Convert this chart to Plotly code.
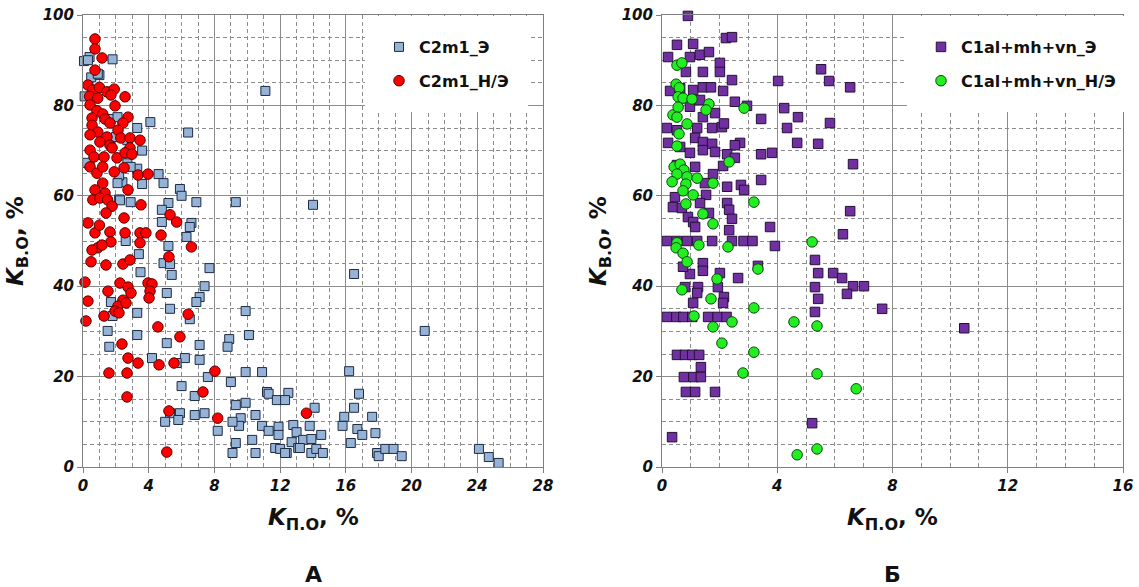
import plotly.graph_objects as go

# ---------------- data (K_П.О %, K_В.О %) ----------------
c2m1_e_points = [
    (0.06, 89.8), (0.4, 90.7), (1.8, 90.2), (0.5, 86.2), (1.0, 86.7), (11.1, 83.2), (4.1, 76.3), (6.4, 74.0),
    (3.3, 75.0), (3.6, 70.0), (0.4, 67.0), (3.3, 66.0), (4.6, 64.8), (4.9, 62.8), (2.4, 63.0), (3.6, 62.6),
    (5.9, 61.5), (6.0, 60.0), (6.9, 58.6), (9.3, 58.6), (5.2, 58.4), (2.9, 58.6), (2.2, 59.2), (4.8, 56.9),
    (6.6, 54.0), (6.5, 53.1), (4.8, 54.2), (6.3, 50.9), (2.6, 50.0), (5.2, 48.9), (1.6, 77.0), (2.7, 72.3),
    (2.0, 73.0), (2.7, 67.2), (2.2, 64.5), (14.0, 58.0), (0.3, 90.0), (0.9, 87.0), (2.1, 77.4), (2.9, 66.4),
    (2.1, 62.8), (0.25, 67.3), (0.1, 82.0), (2.25, 59.0),
    (3.4, 47.1), (3.5, 43.1), (4.9, 45.1), (5.3, 44.9), (5.4, 42.5), (7.7, 44.0), (7.4, 40.0), (7.1, 37.6),
    (6.9, 36.5), (6.5, 32.7), (5.1, 38.5), (5.3, 35.0), (3.3, 34.1), (1.7, 36.5), (1.8, 33.4), (1.5, 30.1),
    (1.6, 26.6), (3.3, 29.2), (9.9, 34.5), (10.1, 29.2), (8.9, 28.3), (8.8, 26.6), (7.1, 27.0), (7.1, 23.7),
    (6.2, 24.1), (4.2, 24.1), (5.1, 27.4), (5.7, 23.0), (6.0, 17.9), (6.8, 15.7), (7.6, 19.9), (9.0, 18.8),
    (9.9, 21.0), (10.9, 21.0), (9.3, 13.7), (9.9, 14.2), (10.5, 11.5), (9.6, 10.8), (9.5, 9.1), (9.1, 10.0),
    (11.2, 16.6), (11.3, 16.2), (11.8, 14.8), (12.5, 16.4), (12.3, 14.8), (7.4, 11.9), (6.8, 11.5), (5.9, 11.9),
    (5.3, 11.9), (5.0, 10.0), (5.8, 10.4), (8.2, 8.0), (10.3, 6.0), (9.3, 5.3), (9.1, 3.1), (10.5, 3.1),
    (10.9, 9.1), (11.3, 8.0), (11.7, 4.2), (12.0, 4.0), (12.4, 3.1), (11.9, 8.9), (11.9, 7.1), (12.7, 5.5),
    (12.8, 9.3), (13.0, 7.7), (13.1, 4.2),
    (16.5, 42.7), (20.8, 30.1), (16.2, 21.2), (16.8, 16.2), (16.5, 13.1), (15.9, 11.1), (15.8, 9.1), (16.7, 8.4),
    (17.0, 7.1), (16.3, 5.3), (17.6, 11.1), (17.8, 7.5), (17.9, 3.1), (18.0, 2.4), (18.4, 4.0), (18.9, 4.0),
    (19.4, 2.4), (24.1, 4.0), (24.7, 2.2), (25.3, 0.9),
    (14.1, 13.1), (13.8, 9.1), (14.5, 7.1), (13.4, 6.0), (13.9, 6.2), (13.2, 4.2), (12.3, 3.1), (13.9, 3.1),
    (14.2, 4.0), (14.6, 3.1),
]

c2m1_ne_points = [
    (0.73, 94.7), (0.73, 92.5), (1.16, 90.5), (0.73, 87.8), (0.3, 84.5), (0.6, 83.4), (1.0, 84.0), (1.46, 83.0),
    (1.9, 83.6), (1.7, 82.3), (2.56, 81.9), (0.4, 82.0), (0.9, 81.6), (0.43, 80.1), (1.95, 79.9), (0.85, 78.8),
    (1.2, 78.1), (0.55, 77.2), (1.34, 77.0), (2.74, 77.4), (2.43, 76.1), (0.55, 75.6), (1.64, 76.1), (2.13, 74.5),
    (0.9, 74.1), (0.43, 73.5), (1.46, 73.0), (2.3, 72.8), (2.86, 72.8), (3.47, 72.3), (1.03, 71.9), (1.64, 71.2),
    (0.43, 70.1), (1.77, 70.6), (2.86, 70.6), (0.67, 68.6), (1.28, 68.6), (2.07, 68.4), (2.56, 69.5), (2.98, 69.2),
    (0.43, 66.4), (0.85, 65.0), (1.2, 66.4), (1.9, 65.3), (2.5, 66.2), (3.35, 64.6), (3.96, 64.8), (1.2, 62.8),
    (1.34, 60.6), (0.73, 61.3), (0.6, 59.1), (1.03, 59.5), (1.5, 59.1), (2.74, 61.3), (1.77, 57.7), (1.4, 56.2),
    (3.53, 58.0), (5.3, 55.8), (5.7, 54.2), (0.3, 54.0), (0.73, 51.8), (1.0, 53.5), (1.64, 52.0), (2.5, 55.1),
    (2.56, 51.8), (3.47, 51.8), (3.83, 51.8), (4.75, 51.3), (1.7, 49.8), (6.6, 48.7), (0.9, 48.5),
    (0.55, 48.0), (1.16, 49.1), (0.49, 45.4), (1.4, 44.7), (2.43, 44.9), (2.86, 45.8), (3.47, 49.6), (5.23, 46.5),
    (0.12, 40.9), (1.52, 38.9), (0.3, 36.7), (0.18, 32.3), (1.28, 33.4), (2.25, 40.7), (2.74, 39.8), (2.92, 38.5),
    (2.43, 36.9), (2.13, 35.6), (1.95, 34.5), (2.19, 34.1), (2.62, 36.3), (3.96, 40.7), (4.2, 40.5), (4.08, 38.9),
    (4.02, 37.4), (6.4, 33.8), (4.56, 31.0), (5.9, 28.8), (2.37, 27.2), (2.74, 24.1), (3.35, 23.0), (4.63, 22.6),
    (5.54, 23.0), (1.58, 20.8), (2.68, 20.8), (8.03, 21.2), (7.3, 16.6), (2.68, 15.5), (5.23, 12.4), (8.2, 10.8),
    (5.1, 3.3), (13.6, 11.9),
]

c1_e_points = [
    (0.9, 99.8), (2.22, 94.9), (2.43, 95.1), (0.52, 93.4), (1.08, 93.6), (0.21, 90.7), (0.97, 90.7), (1.32, 91.2),
    (1.63, 91.8), (2.01, 89.4), (2.01, 87.4), (0.83, 87.4), (1.42, 87.4), (5.52, 88.0), (5.8, 85.4), (6.53, 84.0),
    (4.03, 85.4), (2.43, 85.6), (2.12, 83.2), (0.28, 83.2), (0.63, 83.8), (1.08, 83.4), (1.42, 84.0), (1.7, 84.0),
    (2.53, 80.8), (2.95, 79.9), (4.24, 79.4), (1.32, 81.2), (0.97, 79.7), (4.72, 77.4), (3.44, 77.0), (5.83, 76.1),
    (4.34, 75.0), (1.84, 78.3), (1.42, 77.4), (0.17, 75.0), (0.52, 74.5), (1.22, 75.0), (1.74, 75.0), (2.08, 75.2),
    (2.15, 76.0), (0.21, 71.7), (0.63, 70.8), (1.15, 72.8), (1.42, 71.9), (1.74, 71.5), (1.84, 69.7), (0.97, 69.5),
    (1.42, 70.1), (2.71, 71.7), (2.53, 71.2), (4.69, 71.7), (5.42, 71.5), (3.44, 69.2), (3.82, 69.5), (2.26, 69.2),
    (2.53, 68.4), (6.63, 67.0), (2.12, 66.6), (1.77, 64.8), (1.15, 66.4), (0.52, 66.8), (3.44, 63.5), (2.74, 62.4),
    (2.85, 61.3), (2.26, 62.0), (1.49, 62.8), (1.53, 60.2), (0.45, 59.7), (0.38, 57.5), (0.69, 57.3), (0.9, 55.3),
    (1.08, 54.2), (1.15, 53.1), (1.32, 58.4), (1.63, 56.2), (2.26, 58.4), (2.33, 56.9), (2.43, 54.9), (2.33, 52.4),
    (3.75, 53.1), (6.53, 56.6), (6.28, 51.5),
    (0.17, 50.0), (0.52, 50.0), (0.87, 50.0), (1.22, 50.0), (1.74, 50.0), (2.43, 50.0), (2.83, 50.0), (3.14, 50.0),
    (3.92, 48.9),
    (5.31, 45.8), (5.42, 42.9), (5.31, 39.8), (5.42, 37.2), (5.31, 34.3), (5.94, 42.9), (6.25, 41.8), (6.63, 40.0),
    (7.01, 40.0), (6.42, 38.3), (7.64, 35.0), (10.49, 30.7), (5.21, 9.7), (0.35, 6.6),
    (1.42, 45.1), (1.42, 43.4), (0.97, 42.7), (0.73, 44.3), (2.01, 42.9), (2.64, 41.8), (3.33, 44.5), (0.8, 39.8),
    (1.25, 39.8), (1.22, 38.5), (1.94, 39.8), (2.15, 37.6), (2.12, 36.3), (1.08, 36.3),
    (0.17, 33.2), (0.5, 33.2), (0.74, 33.2), (1.05, 33.2), (1.6, 33.2), (1.93, 33.2), (2.24, 33.2),
    (0.52, 24.8), (0.8, 24.8), (1.05, 24.8), (1.29, 24.8), (1.35, 22.1), (0.76, 19.9), (1.09, 19.9), (1.35, 19.9),
    (0.83, 16.6), (1.15, 16.6), (1.84, 16.6),
]

c1_ne_points = [
    (0.52, 88.9), (0.69, 89.4), (0.49, 84.7), (0.6, 83.9), (0.56, 81.9), (0.73, 81.6), (1.04, 81.4), (0.38, 77.9),
    (0.56, 79.6), (0.52, 77.4), (1.63, 80.3), (1.53, 79.0), (2.85, 79.4), (0.87, 75.9), (0.59, 73.7), (0.52, 71.0),
    (2.33, 67.5), (0.42, 66.4), (0.63, 67.0), (0.76, 65.7), (0.52, 64.8), (0.35, 63.1), (0.87, 64.2), (1.22, 63.9),
    (0.83, 62.6), (0.73, 61.1), (1.08, 60.2), (0.83, 58.2), (1.77, 62.8), (3.19, 58.6), (1.42, 56.0), (1.77, 53.8),
    (0.52, 49.6), (1.28, 49.1), (2.29, 48.7), (5.21, 49.8), (0.49, 48.5), (0.73, 47.3), (0.87, 45.4), (1.91, 41.6),
    (3.33, 43.8), (0.69, 39.2), (1.7, 37.2), (1.11, 33.4), (2.43, 32.1), (1.77, 31.0), (2.08, 27.4), (3.19, 35.2),
    (3.19, 25.4), (2.81, 20.8), (4.58, 32.1), (5.38, 31.2), (5.38, 20.6), (6.74, 17.3), (4.69, 2.7), (5.38, 4.0),
]

series_names = ["C2m1_Э", "C2m1_Н/Э", "C1al+mh+vn_Э", "C1al+mh+vn_Н/Э"]
x_ticks_left = [0, 4, 8, 12, 16, 20, 24, 28]
x_ticks_right = [0, 4, 8, 12, 16]
y_ticks = [0, 20, 40, 60, 80, 100]
panel_labels = ["А", "Б"]

W, H = 1139, 587
FONT = "DejaVu Sans, Arial, sans-serif"
GRID = "#8c8c8c"


def xs(pts):
    return [p[0] for p in pts]


def ys(pts):
    return [p[1] for p in pts]


fig = go.Figure()

fig.add_trace(go.Scatter(
    x=xs(c2m1_e_points), y=ys(c2m1_e_points), mode="markers", name=series_names[0],
    marker=dict(symbol="square", size=9, color="#95B3D7", line=dict(color="#1E2B44", width=1)),
    xaxis="x", yaxis="y", legend="legend", legendgroup="a", cliponaxis=False))
fig.add_trace(go.Scatter(
    x=xs(c2m1_ne_points), y=ys(c2m1_ne_points), mode="markers", name=series_names[1],
    marker=dict(symbol="circle", size=10.5, color="#FF0000", line=dict(color="#5A0000", width=1)),
    xaxis="x", yaxis="y", legend="legend", legendgroup="b", cliponaxis=False))
fig.add_trace(go.Scatter(
    x=xs(c1_e_points), y=ys(c1_e_points), mode="markers", name=series_names[2],
    marker=dict(symbol="square", size=9.5, color="#7030A0", line=dict(color="#25103A", width=1)),
    xaxis="x2", yaxis="y2", legend="legend2", legendgroup="c", cliponaxis=False))
fig.add_trace(go.Scatter(
    x=xs(c1_ne_points), y=ys(c1_ne_points), mode="markers", name=series_names[3],
    marker=dict(symbol="circle", size=10.5, color="#22EE22", line=dict(color="#0B4A0B", width=1)),
    xaxis="x2", yaxis="y2", legend="legend2", legendgroup="d", cliponaxis=False))

LX0, LX1 = 83 / W, 543 / W
RX0, RX1 = 662 / W, 1123 / W
Y0, Y1 = (H - 467) / H, (H - 15) / H

tickfont = dict(family=FONT, size=15, color="#111111", weight="bold", style="italic")


def xaxis_cfg(domain, rng, ticks, anchor):
    return dict(
        domain=list(domain), range=rng, tickvals=ticks, ticktext=[str(t) for t in ticks],
        showgrid=True, gridcolor=GRID, gridwidth=1, zeroline=False,
        showline=True, linecolor="#7f7f7f", linewidth=1, mirror=True,
        ticks="outside", ticklen=5, tickcolor="#7f7f7f", tickfont=tickfont,
        minor=dict(dtick=1, tick0=0, showgrid=True, gridcolor=GRID, griddash="4px,3px", gridwidth=1),
        anchor=anchor, fixedrange=True, automargin=False)


def yaxis_cfg(anchor):
    return dict(
        domain=[Y0, Y1], range=[0, 100], tickvals=y_ticks, ticktext=[str(t) for t in y_ticks],
        showgrid=True, gridcolor=GRID, gridwidth=1, zeroline=False,
        showline=True, linecolor="#7f7f7f", linewidth=1, mirror=True,
        ticks="outside", ticklen=5, tickcolor="#7f7f7f", tickfont=tickfont,
        minor=dict(dtick=5, tick0=0, showgrid=True, gridcolor=GRID, griddash="4px,3px", gridwidth=1),
        anchor=anchor, fixedrange=True, automargin=False)


legfont = dict(family=FONT, size=16, color="#111111", weight="bold")

fig.update_layout(
    width=W, height=H, autosize=False,
    margin=dict(l=0, r=0, t=0, b=0, autoexpand=False),
    paper_bgcolor="white", plot_bgcolor="white",
    showlegend=True,
    xaxis=xaxis_cfg((LX0, LX1), [0, 28], x_ticks_left, "y"),
    yaxis=yaxis_cfg("x"),
    xaxis2=xaxis_cfg((RX0, RX1), [0, 16], x_ticks_right, "y2"),
    yaxis2=yaxis_cfg("x2"),
    legend=dict(x=365 / W, y=(H - 16) / H, xref="container", yref="container",
                xanchor="left", yanchor="top", bgcolor="white",
                font=legfont, traceorder="grouped", tracegroupgap=10, itemwidth=30, borderwidth=14,
                bordercolor="white"),
    legend2=dict(x=907 / W, y=(H - 16) / H, xref="container", yref="container",
                 xanchor="left", yanchor="top", bgcolor="white",
                 font=legfont, traceorder="grouped", tracegroupgap=10, itemwidth=30, borderwidth=14,
                 bordercolor="white"),
)

ytitle = "<b><i>K</i><sub>В.О</sub>, %</b>"
xtitle = "<b><i>K</i><sub>П.О</sub>, %</b>"
titlefont = dict(family=FONT, size=23, color="#111111")
ann = [
    dict(text=ytitle, x=17 / W, y=(H - 241) / H, textangle=-90),
    dict(text=ytitle, x=600 / W, y=(H - 241) / H, textangle=-90),
    dict(text=xtitle, x=313 / W, y=(H - 519) / H, textangle=0),
    dict(text=xtitle, x=892 / W, y=(H - 519) / H, textangle=0),
]
annotations = []
for a in ann:
    annotations.append(dict(text=a["text"], x=a["x"], y=a["y"], xref="paper", yref="paper",
                            xanchor="center", yanchor="middle", showarrow=False,
                            textangle=a["textangle"], font=titlefont))
for lbl, cx in zip(panel_labels, [313, 892]):
    annotations.append(dict(text="<b>" + lbl + "</b>", x=cx / W, y=(H - 574) / H, xref="paper", yref="paper",
                            xanchor="center", yanchor="middle", showarrow=False,
                            font=dict(family=FONT, size=22, color="#111111")))
fig.update_layout(annotations=annotations)

fig.write_html("out.html")
